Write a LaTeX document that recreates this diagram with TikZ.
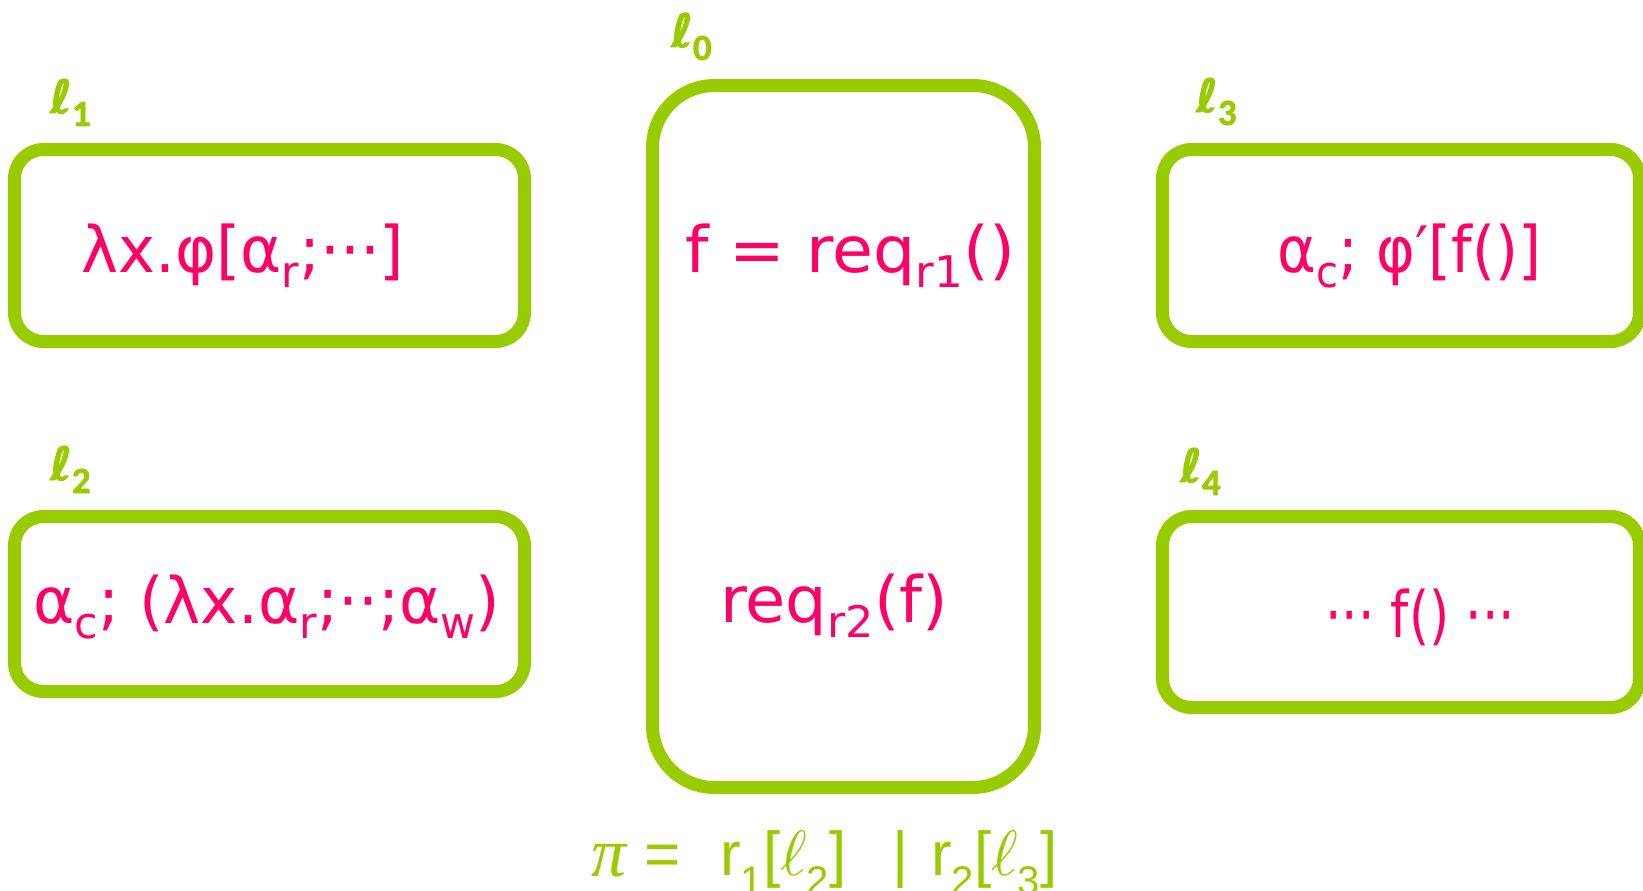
\documentclass[tikz,border=0pt]{standalone}
\usepackage{fontspec}
\setmainfont{DejaVu Sans}
\newfontfamily\formfont{Liberation Sans}
\newfontfamily\piserif{Liberation Serif}
\newfontfamily\digfont[BoldFeatures={FakeBold=1.5}]{Carlito}
\newfontfamily\ellfont[BoldFeatures={FakeBold=2}]{DejaVu Sans}
\usepackage{graphicx}
\definecolor{lgreen}{HTML}{99CC00}
\definecolor{lpink}{HTML}{FF0066}
\newcommand{\sbs}[1]{\raisebox{-0.24em}{\scalebox{0.68}{#1}}}
\newcommand{\fsub}[1]{\raisebox{-19pt}{\fontsize{40}{40}\selectfont #1}}
\newcommand{\fitw}[2]{\resizebox{#1pt}{\height}{#2}}
\newcommand{\myell}{{\fontsize{10}{12}\selectfont\scalebox{6.4}{$\ell$}}}
\newcommand{\lbl}[1]{{\ellfont\bfseries\fontsize{46}{46}\selectfont ℓ}\raisebox{-13pt}{\digfont\bfseries\fontsize{37}{37}\selectfont #1}}
\begin{document}
\begin{tikzpicture}[x=1pt,y=-1pt,
  box/.style={draw=lgreen, line width=13pt, inner sep=0pt, outer sep=0pt, rounded corners=29pt},
  bigbox/.style={box, rounded corners=62pt},
  code/.style={text=lpink, inner sep=0pt, anchor=base west, font=\fontsize{64}{70}\selectfont},
  loc/.style={text=lgreen, inner sep=0pt, anchor=base west},
  form/.style={text=lgreen, inner sep=0pt, anchor=base west, font=\formfont\fontsize{62}{70}\selectfont}]
\useasboundingbox (0,0) rectangle (1643,891);
% boxes
\node[box, minimum width=510pt, minimum height=192pt] (l1) at (269.5,245.5) {};
\node[box, minimum width=510pt, minimum height=175pt] (l2) at (269.5,604) {};
\node[bigbox, minimum width=382pt, minimum height=702pt] (l0) at (843.5,436.5) {};
\node[box, minimum width=477pt, minimum height=192pt] (l3) at (1401,245.5) {};
\node[box, minimum width=477pt, minimum height=191pt] (l4) at (1401,612) {};
% labels
\node[loc] (lab0) at (671,47) {\lbl{0}};
\node[loc] (lab1) at (50,113) {\lbl{1}};
\node[loc] (lab2) at (50,480) {\lbl{2}};
\node[loc] (lab3) at (1196,112) {\lbl{3}};
\node[loc] (lab4) at (1180,482) {\lbl{4}};
% code
\node[code] (t1) at (81,272) {\fitw{323}{λx.φ[α\sbs{r};···]}};
\node[code] (t2) at (33,623) {\fitw{467}{α\sbs{c}; (λx.α\sbs{r};··;α\sbs{w})}};
\node[code] (t0a) at (685,272) {\fitw{330}{f = req\sbs{r1}()}};
\node[code] (t0b) at (720,622) {\fitw{228}{req\sbs{r2}(f)}};
\node[code] (t3) at (1277,272) {\fitw{264}{α\sbs{c}; φ′[f()]}};
\node[code] (t4) at (1325,637) {\fitw{190}{··· f() ···}};
% formula
\node[form] (pi) at (591,876) {\piserif\itshape\fontsize{70}{70}\selectfont π};
\node[form] (eq) at (644,875) {=};
\node[form] (r1) at (720,875) {r\fsub{1}[\myell\fsub{2}]};
\node[form] (bar) at (892,875) {|};
\node[form] (r2) at (931,875) {r\fsub{2}[\myell\fsub{3}]};
\end{tikzpicture}
\end{document}
